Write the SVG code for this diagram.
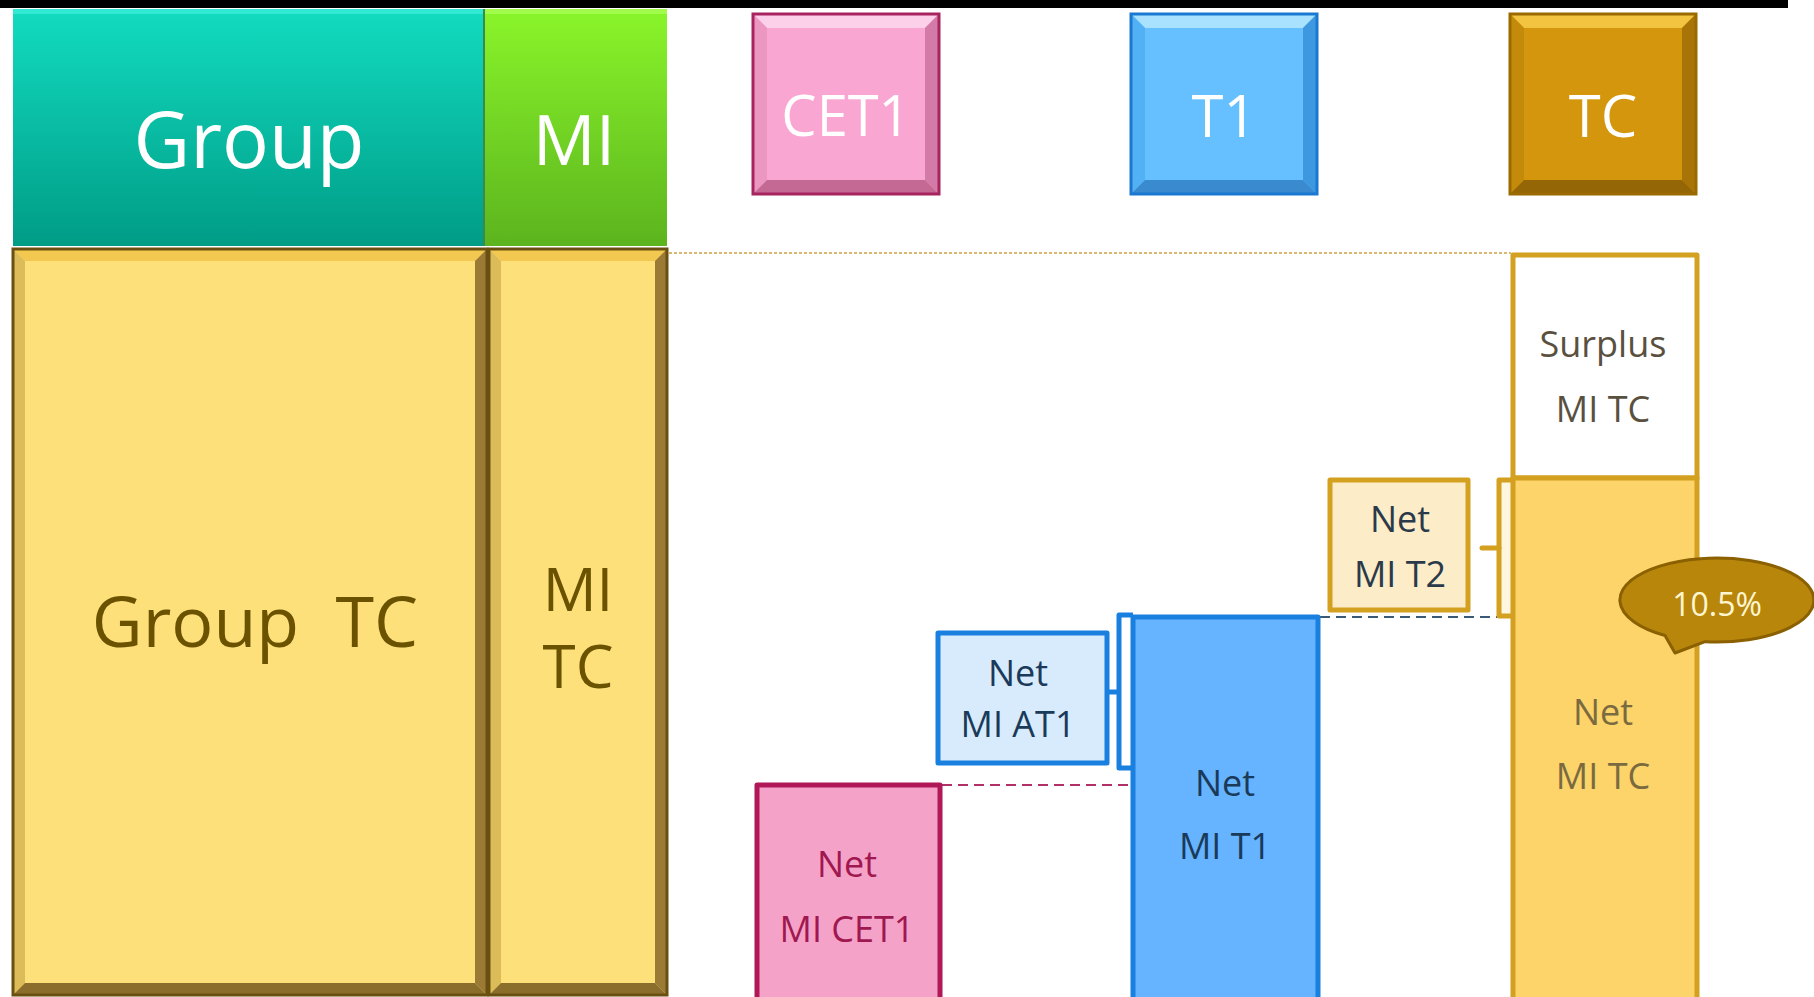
<svg xmlns="http://www.w3.org/2000/svg" width="1814" height="997" viewBox="0 0 1814 997">
<defs>
<linearGradient id="gTeal" x1="0" y1="0" x2="0" y2="1"><stop offset="0" stop-color="#12dcc0"/><stop offset="1" stop-color="#009c86"/></linearGradient>
<linearGradient id="gGreen" x1="0" y1="0" x2="0" y2="1"><stop offset="0" stop-color="#8af52a"/><stop offset="1" stop-color="#5cb41e"/></linearGradient>
<style>
text{font-family:"Open Sans","Liberation Sans",sans-serif;text-anchor:middle;dominant-baseline:central}
.hdr{fill:#ffffff}
.yel{fill:#6b5200}
.lbl{font-size:36px}
.box{stroke-width:5;stroke-linejoin:round}
</style>
</defs>
<rect width="1814" height="997" fill="#ffffff"/>
<rect x="0" y="0" width="1788" height="8" fill="#000000"/>

<g id="group-header">
<rect x="13" y="9" width="471" height="237" fill="url(#gTeal)"/>
<rect x="13" y="9" width="471" height="5" fill="#40f0dc" opacity="0.7"/>
<text x="249" y="138" class="hdr" font-size="78">Group</text>
</g>
<g id="mi-header">
<rect x="484" y="9" width="183" height="237" fill="url(#gGreen)"/>
<rect x="484" y="9" width="183" height="5" fill="#b0ff60" opacity="0.6"/>
<line x1="484" y1="9" x2="484" y2="246" stroke="#3a8a50" stroke-width="2"/>
<text x="574" y="138" class="hdr" font-size="70">MI</text>
</g>

<g id="group-tc">
<rect x="13" y="249" width="474" height="746" fill="#fde07a"/>
<polygon points="13,249 487,249 475,261 25,261" fill="#f3c850"/>
<polygon points="13,249 25,261 25,983 13,995" fill="#dcbc58"/>
<polygon points="487,249 487,995 475,983 475,261" fill="#9a7a34"/>
<polygon points="13,995 25,983 475,983 487,995" fill="#8c6e2c"/>
<rect x="13" y="249" width="474" height="746" fill="none" stroke="#6a5010" stroke-width="3"/>
<text x="255" y="620" class="yel" font-size="70" xml:space="preserve">Group  TC</text>
</g>
<g id="mi-tc">
<rect x="489" y="249" width="178" height="746" fill="#fde07a"/>
<polygon points="489,249 667,249 655,261 501,261" fill="#f3c850"/>
<polygon points="489,249 501,261 501,983 489,995" fill="#dcbc58"/>
<polygon points="667,249 667,995 655,983 655,261" fill="#9a7a34"/>
<polygon points="489,995 501,983 655,983 667,995" fill="#8c6e2c"/>
<rect x="489" y="249" width="178" height="746" fill="none" stroke="#6a5010" stroke-width="3"/>
<text x="578" y="588" class="yel" font-size="60">MI</text>
<text x="578" y="665" class="yel" font-size="60">TC</text>
</g>

<g id="cet1-header">
<rect x="753" y="14" width="186" height="180" fill="#f9a6d2"/>
<polygon points="753,14 939,14 925,28 767,28" fill="#fcd0e8"/>
<polygon points="753,14 767,28 767,180 753,194" fill="#ec96c2"/>
<polygon points="939,14 939,194 925,180 925,28" fill="#d47aa8"/>
<polygon points="753,194 767,180 925,180 939,194" fill="#c46894"/>
<rect x="753" y="14" width="186" height="180" fill="none" stroke="#a8245e" stroke-width="3"/>
<text x="846" y="114" class="hdr" font-size="56">CET1</text>
</g>
<g id="t1-header">
<rect x="1131" y="14" width="186" height="180" fill="#66bfff"/>
<polygon points="1131,14 1317,14 1303,28 1145,28" fill="#a8e2ff"/>
<polygon points="1131,14 1145,28 1145,180 1131,194" fill="#52b0f4"/>
<polygon points="1317,14 1317,194 1303,180 1303,28" fill="#3e98e0"/>
<polygon points="1131,194 1145,180 1303,180 1317,194" fill="#3a8ad0"/>
<rect x="1131" y="14" width="186" height="180" fill="none" stroke="#1a78d0" stroke-width="3"/>
<text x="1224" y="114" class="hdr" font-size="58">T1</text>
</g>
<g id="tc-header">
<rect x="1510" y="14" width="186" height="180" fill="#d4960c"/>
<polygon points="1510,14 1696,14 1682,28 1524,28" fill="#f2c440"/>
<polygon points="1510,14 1524,28 1524,180 1510,194" fill="#c48a0a"/>
<polygon points="1696,14 1696,194 1682,180 1682,28" fill="#a87408"/>
<polygon points="1510,194 1524,180 1682,180 1696,194" fill="#946606"/>
<rect x="1510" y="14" width="186" height="180" fill="none" stroke="#9a6a00" stroke-width="3"/>
<text x="1603" y="114" class="hdr" font-size="58">TC</text>
</g>

<g id="connectors" fill="none">
<line x1="669" y1="253" x2="1511" y2="253" stroke="#d0a040" stroke-width="1.5" stroke-dasharray="3 2"/>
<line x1="1320" y1="617" x2="1497" y2="617" stroke="#3a5878" stroke-width="2" stroke-dasharray="10 6"/>
<line x1="942" y1="785" x2="1133" y2="785" stroke="#b03068" stroke-width="2" stroke-dasharray="10 6"/>
<path d="M1513 480 H1499 V616 H1513" fill="#fff6e0" stroke="#d4a020" stroke-width="5" stroke-linejoin="round"/>
<line x1="1482" y1="548" x2="1499" y2="548" stroke="#d4a020" stroke-width="5" stroke-linecap="round"/>
<path d="M1133 615 H1119 V768 H1133" fill="#ffffff" stroke="#1a80e0" stroke-width="5" stroke-linejoin="round"/>
<line x1="1107" y1="692" x2="1119" y2="692" stroke="#1a80e0" stroke-width="5"/>
</g>

<g id="surplus-mi-tc">
<rect x="1513" y="255" width="184" height="223" fill="#ffffff" stroke="#d4a020" class="box"/>
<text x="1603" y="343" class="lbl" fill="#5a5040">Surplus</text>
<text x="1603" y="408" class="lbl" fill="#5a5040">MI TC</text>
</g>
<g id="net-mi-tc">
<rect x="1513" y="478" width="184" height="525" fill="#fcd46a" stroke="#d4a020" class="box"/>
<text x="1603" y="711" class="lbl" fill="#7a6a40">Net</text>
<text x="1603" y="775" class="lbl" fill="#7a6a40">MI TC</text>
</g>
<g id="net-mi-t2">
<rect x="1330" y="480" width="138" height="130" fill="#fdecc8" stroke="#d4a020" class="box"/>
<text x="1400" y="518" class="lbl" fill="#2a3a4a">Net</text>
<text x="1400" y="573" class="lbl" fill="#2a3a4a">MI T2</text>
</g>
<g id="net-mi-t1">
<rect x="1133" y="617" width="185" height="386" fill="#66b3ff" stroke="#1a80e0" class="box"/>
<text x="1225" y="782" class="lbl" fill="#1a3a5a">Net</text>
<text x="1225" y="845" class="lbl" fill="#1a3a5a">MI T1</text>
</g>
<g id="net-mi-at1">
<rect x="938" y="633" width="169" height="130" fill="#d8ebfc" stroke="#1a80e0" class="box"/>
<text x="1018" y="672" class="lbl" fill="#1a3a5a">Net</text>
<text x="1018" y="723" class="lbl" fill="#1a3a5a">MI AT1</text>
</g>
<g id="net-mi-cet1">
<rect x="757" y="785" width="183" height="218" fill="#f5a2c8" stroke="#b01858" class="box"/>
<text x="847" y="863" class="lbl" fill="#a01850">Net</text>
<text x="847" y="928" class="lbl" fill="#a01850">MI CET1</text>
</g>

<g id="callout-10-5">
<path d="M1665 635.5 A97 42 0 1 1 1705 641.7 L1675 653 Z" fill="#b8860b" stroke="#8a6000" stroke-width="3" stroke-linejoin="round"/>
<text x="1717" y="603" font-size="32" fill="#fff6d0">10.5%</text>
</g>
</svg>
